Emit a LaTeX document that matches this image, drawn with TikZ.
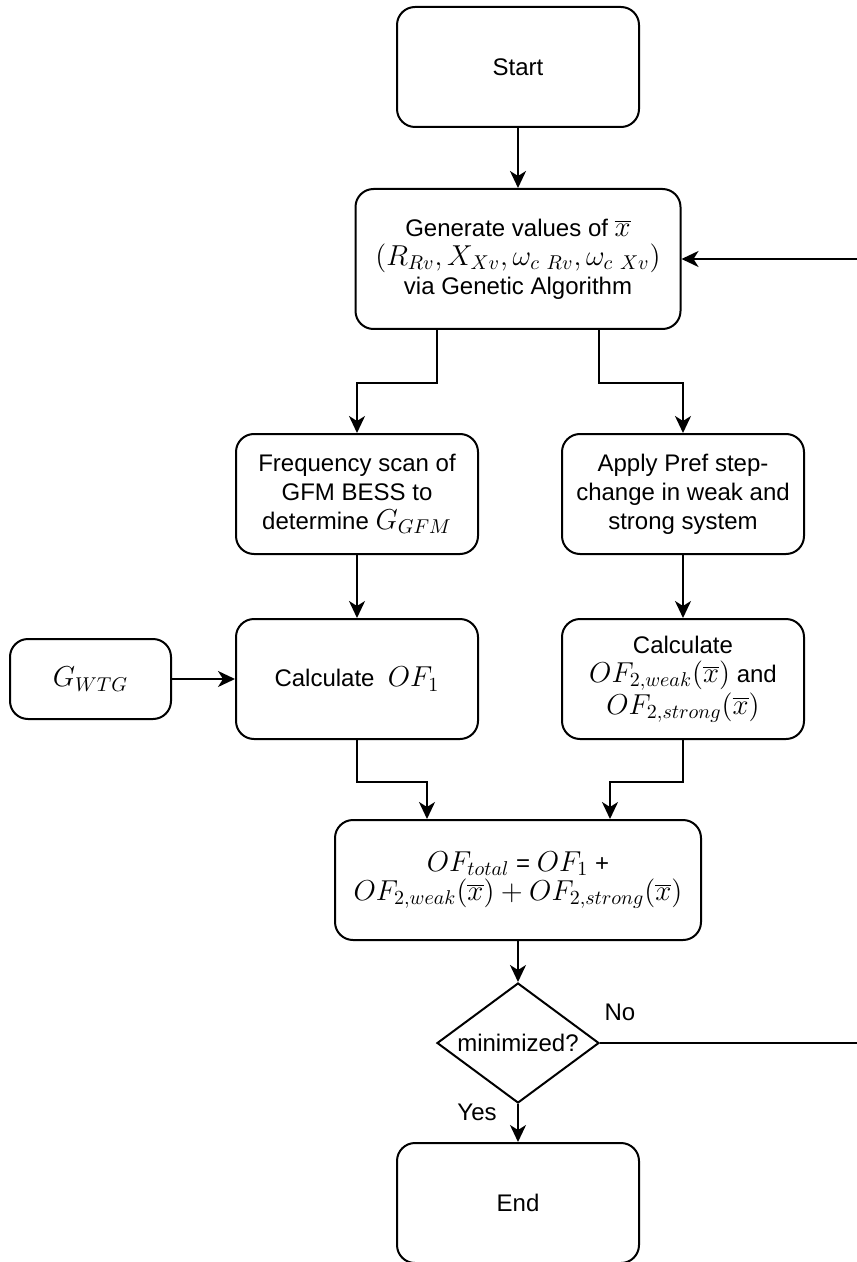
\documentclass[tikz,border=0pt]{standalone}
\usepackage{fontspec}
\setmainfont{Liberation Sans}
\usetikzlibrary{shapes.geometric,arrows.meta,positioning,calc}
\newcommand{\mth}[1]{{\fontsize{14}{14.5}\selectfont$#1$}}
\tikzset{
  block/.style={ % rounded process box
    draw, rectangle, rounded corners=9pt,
    minimum width=121pt, minimum height=60pt,
    align=center, inner sep=2pt, text=black,
    font=\fontsize{12}{14.5}\selectfont
  },
  decision/.style={ % diamond for the stop test
    draw, diamond, aspect=1.35, inner sep=0pt,
    minimum width=81pt, minimum height=60pt,
    text=black, font=\fontsize{12}{14.5}\selectfont
  },
  tag/.style={ % label beside a connector
    inner sep=0pt, text=black, font=\fontsize{12}{14.5}\selectfont
  }
}
\begin{document}
\begin{tikzpicture}[
      x=0.5pt, y=-0.5pt, line width=1pt,
      >={Stealth[length=8.5pt,width=8pt,inset=2.5pt]}
    ]
      \path[use as bounding box, fill=white] (0,0) rectangle (856,1262);

      \node[block] (start) at (518,67) {Start};
      \node[block, minimum width=162.5pt, minimum height=70pt] (gen) at (518,259)
        {Generate values of \mth{\overline{x}}\\
         \mth{(R_{Rv}, X_{Xv}, \omega_{c\ Rv}, \omega_{c\ Xv})}\\
         via Genetic Algorithm};
      \node[block] (freq) at (357,494)
        {Frequency scan of\\ GFM BESS to\\ determine \mth{G_{GFM}}};
      \node[block, right=41pt of freq] (pref)
        {Apply Pref step-\\ change in weak and\\ strong system};
      \node[block, below=31.5pt of freq] (calcone) {Calculate \ \mth{OF_1}};
      \node[block, below=31.5pt of pref] (calctwo)
        {Calculate\\ \mth{OF_{2,weak}(\overline{x})} and\\ \mth{OF_{2,strong}(\overline{x})}};
      \node[block, minimum width=80.5pt, minimum height=40pt, left=31.5pt of calcone] (wtg)
        {\mth{G_{WTG}}};
      \node[block, minimum width=183pt] (total) at (518,880)
        {\mth{OF_{total}} = \mth{OF_1} +\\
         \mth{OF_{2,weak}(\overline{x}) + OF_{2,strong}(\overline{x})}};
      \node[decision] (mini) at (518,1043) {minimized?};
      \node[block] (finish) at (518,1203) {End};
      \node[tag] (no_label) at (620,1012) {No};
      \node[tag] (yes_label) at (477,1112) {Yes};
      \coordinate (back) at (862,1043);

      \draw[->] (start) -- (gen);
      \draw[->] ([xshift=-40.5pt]gen.south) -- ++(0,-26.5pt) -| (freq.north);
      \draw[->] ([xshift=40.5pt]gen.south) -- ++(0,-26.5pt) -| (pref.north);
      \draw[->] (freq) -- (calcone);
      \draw[->] (pref) -- (calctwo);
      \draw[->] (wtg) -- (calcone);
      \draw[->] (calcone.south) -- ++(0,-21pt) -| ([xshift=-45.5pt]total.north);
      \draw[->] (calctwo.south) -- ++(0,-21pt) -| ([xshift=46pt]total.north);
      \draw[->] (total) -- (mini);
      \draw[->] (mini) -- (finish);
      \draw[->] (mini.east) -- (back) |- (gen.east);
    \end{tikzpicture}
\end{document}
